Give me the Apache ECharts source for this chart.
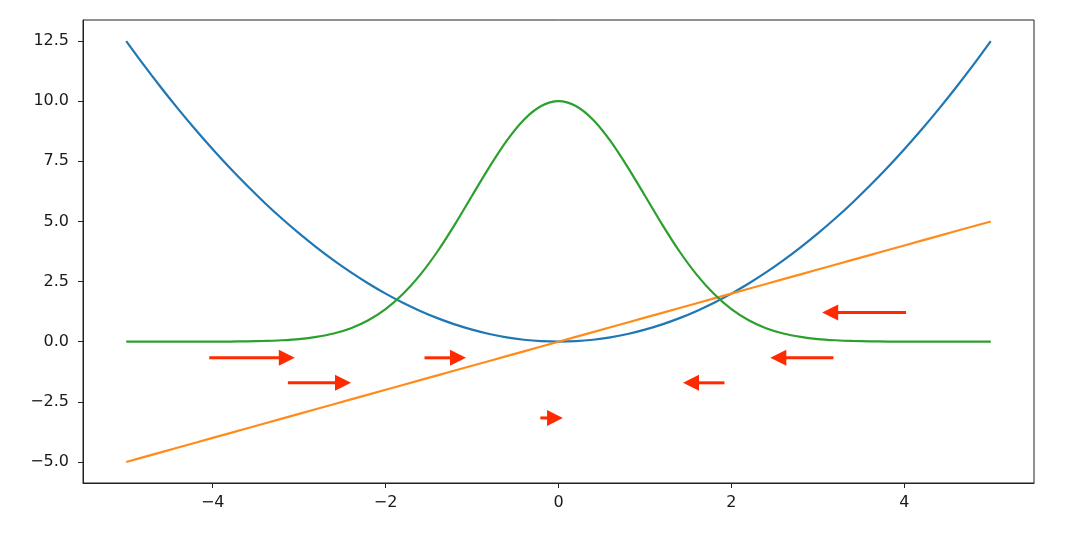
<!DOCTYPE html>
<html>
<head>
<meta charset="utf-8">
<script src="https://cdn.jsdelivr.net/npm/echarts@6/dist/echarts.min.js"></script>
<style>
html,body{margin:0;padding:0;background:#fff;}
#c{width:1080px;height:536px;}
</style>
</head>
<body>
<div id="c"></div>
<script>
// sample x positions
const xs = [-5,-4.8,-4.6,-4.4,-4.2,-4,-3.8,-3.6,-3.4,-3.2,-3,-2.8,-2.6,-2.4,-2.2,-2,-1.8,-1.6,-1.4,-1.2,-1,-0.8,-0.6,-0.4,-0.2,0,
  0.2,0.4,0.6,0.8,1,1.2,1.4,1.6,1.8,2,2.2,2.4,2.6,2.8,3,3.2,3.4,3.6,3.8,4,4.2,4.4,4.6,4.8,5];
// blue parabola values
const blueY = [12.5,11.52,10.58,9.68,8.82,8,7.22,6.48,5.78,5.12,4.5,3.92,3.38,2.88,2.42,2,1.62,1.28,0.98,0.72,0.5,0.32,0.18,0.08,0.02,0,
  0.02,0.08,0.18,0.32,0.5,0.72,0.98,1.28,1.62,2,2.42,2.88,3.38,3.92,4.5,5.12,5.78,6.48,7.22,8,8.82,9.68,10.58,11.52,12.5];
// orange straight line values
const orangeY = [-5,-4.8,-4.6,-4.4,-4.2,-4,-3.8,-3.6,-3.4,-3.2,-3,-2.8,-2.6,-2.4,-2.2,-2,-1.8,-1.6,-1.4,-1.2,-1,-0.8,-0.6,-0.4,-0.2,0,
  0.2,0.4,0.6,0.8,1,1.2,1.4,1.6,1.8,2,2.2,2.4,2.6,2.8,3,3.2,3.4,3.6,3.8,4,4.2,4.4,4.6,4.8,5];
// green bell curve values
const greenY = [0,0,0,0,0,0.003,0.007,0.015,0.03,0.06,0.11,0.2,0.34,0.56,0.89,1.35,1.98,2.78,3.75,4.87,6.07,7.26,8.35,9.23,9.8,10,
  9.8,9.23,8.35,7.26,6.07,4.87,3.75,2.78,1.98,1.35,0.89,0.56,0.34,0.2,0.11,0.06,0.03,0.015,0.007,0.003,0,0,0,0,0];
// red arrows: tail x, tail y, tip x, tip y
const arrowTailX = [-4.04,-3.13,-1.55,-0.21,1.92,3.18,4.02];
const arrowTailY = [-0.67,-1.71,-0.67,-3.17,-1.71,-0.67,1.21];
const arrowTipX  = [-3.05,-2.40,-1.07,0.05,1.44,2.45,3.05];
const arrowTipY  = [-0.67,-1.71,-0.67,-3.17,-1.71,-0.67,1.21];
// ticks
const xTicks = [-4,-2,0,2,4];
const yTicks = [-5,-2.5,0,2.5,5,7.5,10,12.5];

const pair = ys => xs.map((x,i)=>[x,ys[i]]);
const arrows = arrowTailX.map((x,i)=>[x,arrowTailY[i],arrowTipX[i],arrowTipY[i]]);
const minus = s => s.replace('-', '\u2212');
const font = 'DejaVu Sans';

const chart = echarts.init(document.getElementById('c'), null, {renderer:'canvas'});
chart.setOption({
  animation:false,
  backgroundColor:'#ffffff',
  grid:{left:83,right:46,top:20,bottom:53,show:true,borderColor:'#222',borderWidth:1,backgroundColor:'transparent'},
  xAxis:{type:'value',min:-5.5,max:5.5,
    axisLine:{show:true,onZero:false,lineStyle:{color:'#222',width:1}},
    splitLine:{show:false},
    axisTick:{show:true,length:5,lineStyle:{color:'#222'},customValues:xTicks},
    axisLabel:{customValues:xTicks,color:'#1a1a1a',fontFamily:font,fontSize:16,margin:12,formatter:v=>minus(String(v))}
  },
  yAxis:{type:'value',min:-5.875,max:13.375,
    axisLine:{show:true,onZero:false,lineStyle:{color:'#222',width:1}},
    splitLine:{show:false},
    axisTick:{show:true,length:5,lineStyle:{color:'#222'},customValues:yTicks},
    axisLabel:{customValues:yTicks,color:'#1a1a1a',fontFamily:font,fontSize:16,margin:14,formatter:v=>minus(v.toFixed(1))}
  },
  series:[
    {type:'line',data:pair(blueY),smooth:0.3,showSymbol:false,lineStyle:{color:'#1f77b4',width:2.2},z:2},
    {type:'line',data:pair(orangeY),showSymbol:false,lineStyle:{color:'#ff8c1a',width:2.2},z:3},
    {type:'line',data:pair(greenY),smooth:0.3,showSymbol:false,lineStyle:{color:'#2ca02c',width:2.2},z:4},
    {type:'custom',data:arrows,z:10,
      renderItem:function(params,api){
        const a = api.coord([api.value(0),api.value(1)]);
        const b = api.coord([api.value(2),api.value(3)]);
        const dx=b[0]-a[0], dy=b[1]-a[1];
        const L=Math.sqrt(dx*dx+dy*dy);
        const ux=dx/L, uy=dy/L;
        const hl=Math.min(16, L*0.7), hw=8;
        const bx=b[0]-ux*hl, by=b[1]-uy*hl;
        const col='#ff2a00';
        return {type:'group',children:[
          {type:'line',shape:{x1:a[0],y1:a[1],x2:bx+ux*1,y2:by+uy*1},style:{stroke:col,lineWidth:3}},
          {type:'polygon',shape:{points:[[b[0],b[1]],[bx-uy*hw,by+ux*hw],[bx+uy*hw,by-ux*hw]]},style:{fill:col}}
        ]};
      }
    }
  ]
});
</script>
</body>
</html>
